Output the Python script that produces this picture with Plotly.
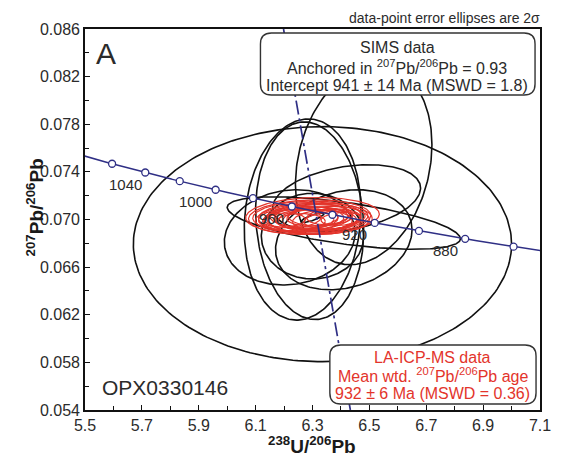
import numpy as np
import plotly.graph_objects as go

# Decay constants (Steiger & Jaeger 1977) and present-day 238U/235U
L238 = 1.55125e-10
L235 = 9.8485e-10
U_RATIO = 137.88

# Concordia age markers (Ma) and which of them carry a label
MARKER_AGES = [1060, 1040, 1020, 1000, 980, 960, 940, 920, 900, 880, 860]
LABEL_AGES = [1040, 1000, 960, 920, 880]
CURVE_AGE_RANGE = (840, 1090)

# Discordia anchored at common 207Pb/206Pb
DISCORDIA_ANCHOR = 0.93
DISCORDIA_SLOPE = -0.13617

# SIMS analyses: 238U/206Pb, 207Pb/206Pb, 2-sigma half widths, error correlation
SIMS_X = [6.335, 6.265, 6.290, 6.480, 6.420, 6.410, 6.220, 6.410, 6.300, 6.300]
SIMS_Y = [0.06793, 0.07000, 0.06990, 0.07460, 0.07180, 0.06970, 0.06850, 0.06830, 0.06860, 0.07015]
SIMS_SX = [0.665, 0.205, 0.190, 0.240, 0.260, 0.410, 0.230, 0.240, 0.180, 0.040]
SIMS_SY = [0.00987, 0.00845, 0.00830, 0.00840, 0.00280, 0.00220, 0.00400, 0.00420, 0.00360, 0.00040]
SIMS_RHO = [0.0, 0.1, -0.1, 0.2, 0.3, -0.6, 0.1, 0.2, 0.0, 0.8]

# LA-ICP-MS analyses
LA_X = [6.300, 6.290, 6.310, 6.280, 6.320, 6.270, 6.330, 6.300, 6.260, 6.340, 6.290, 6.310,
        6.250, 6.350, 6.280, 6.320, 6.230, 6.370, 6.300, 6.260, 6.360, 6.200, 6.400]
LA_Y = [0.07030, 0.07020, 0.07010, 0.07025, 0.07000, 0.07015, 0.07020, 0.06995, 0.07005, 0.07010,
        0.07035, 0.06990, 0.06995, 0.07000, 0.07005, 0.07025, 0.07010, 0.06995, 0.07015, 0.06985,
        0.07020, 0.06995, 0.07005]
LA_SX = [0.235, 0.215, 0.200, 0.190, 0.180, 0.170, 0.165, 0.155, 0.150, 0.145, 0.140, 0.130,
         0.125, 0.120, 0.110, 0.105, 0.100, 0.100, 0.090, 0.085, 0.080, 0.075, 0.070]
LA_SY = [0.00155, 0.00145, 0.00135, 0.00130, 0.00125, 0.00120, 0.00115, 0.00110, 0.00105, 0.00100,
         0.00100, 0.00095, 0.00090, 0.00090, 0.00085, 0.00080, 0.00080, 0.00075, 0.00070, 0.00065,
         0.00065, 0.00060, 0.00055]
LA_RHO = [0.1, 0.1, 0.0, 0.1, 0.0, 0.2, 0.1, 0.0, 0.1, 0.2, 0.1, 0.0,
          0.1, 0.2, 0.1, 0.0, 0.1, 0.2, 0.1, 0.0, 0.1, 0.1, 0.2]

X_RANGE = [5.5, 7.1]
Y_RANGE = [0.054, 0.086]

NAVY = "#2f2f85"
RED = "#e3342b"
TEXT = "#2b2b2b"
FONT = "Liberation Sans, Arial, sans-serif"

# Plot-area geometry in pixels (used to place layout decorations)
W, H = 563, 459
ML, MR, MT, MB = 85, 19, 29, 49
PW, PH = W - ML - MR, H - MT - MB


def tera_wasserburg(age_ma):
    t = np.asarray(age_ma, dtype=float) * 1e6
    e8 = np.exp(L238 * t) - 1.0
    e5 = np.exp(L235 * t) - 1.0
    return 1.0 / e8, e5 / e8 / U_RATIO


def ellipse_paths(xs, ys, sxs, sys_, rhos, n=241):
    t = np.linspace(0, 2 * np.pi, n)
    px, py = [], []
    for cx, cy, sx, sy, r in zip(xs, ys, sxs, sys_, rhos):
        px.extend(cx + sx * np.cos(t))
        py.extend(cy + sy * (r * np.cos(t) + np.sqrt(1 - r * r) * np.sin(t)))
        px.append(None)
        py.append(None)
    return px, py


def to_paper(px, py):
    return (px - ML) / PW, (H - MB - py) / PH


def rounded_box(x0, y0, x1, y1, r):
    # x0,y0 top-left and x1,y1 bottom-right in figure pixels
    def p(x, y):
        a, b = to_paper(x, y)
        return f"{a:.5f},{b:.5f}"
    return (f"M {p(x0 + r, y0)} L {p(x1 - r, y0)} Q {p(x1, y0)} {p(x1, y0 + r)} "
            f"L {p(x1, y1 - r)} Q {p(x1, y1)} {p(x1 - r, y1)} "
            f"L {p(x0 + r, y1)} Q {p(x0, y1)} {p(x0, y1 - r)} "
            f"L {p(x0, y0 + r)} Q {p(x0, y0)} {p(x0 + r, y0)} Z")


fig = go.Figure()

# SIMS ellipses
bx, by = ellipse_paths(SIMS_X, SIMS_Y, SIMS_SX, SIMS_SY, SIMS_RHO)
fig.add_trace(go.Scatter(x=bx, y=by, mode="lines", line=dict(color="#111111", width=1.6),
                         hoverinfo="skip", showlegend=False))

# LA-ICP-MS ellipses
rx, ry = ellipse_paths(LA_X, LA_Y, LA_SX, LA_SY, LA_RHO)
fig.add_trace(go.Scatter(x=rx, y=ry, mode="lines", line=dict(color=RED, width=1.2),
                         hoverinfo="skip", showlegend=False))

# Discordia
dy = np.array(Y_RANGE)
dx = (dy - DISCORDIA_ANCHOR) / DISCORDIA_SLOPE
fig.add_trace(go.Scatter(x=dx, y=dy, mode="lines",
                         line=dict(color=NAVY, width=1.7, dash="14px,4px,3px,4px"),
                         hoverinfo="skip", showlegend=False))

# Concordia curve and age markers
ages = np.linspace(*CURVE_AGE_RANGE, 400)
cx, cy = tera_wasserburg(ages)
fig.add_trace(go.Scatter(x=cx, y=cy, mode="lines", line=dict(color=NAVY, width=1.5),
                         hoverinfo="skip", showlegend=False))
mx, my = tera_wasserburg(MARKER_AGES)
fig.add_trace(go.Scatter(x=mx, y=my, mode="markers",
                         marker=dict(symbol="circle", size=7, color="white",
                                     line=dict(color=NAVY, width=1.3)),
                         hoverinfo="skip", showlegend=False))

annotations = []
lx, ly = tera_wasserburg(LABEL_AGES)
for age, x, y in zip(LABEL_AGES, lx, ly):
    annotations.append(dict(x=x, y=y, xref="x", yref="y", text=str(age), showarrow=False,
                            xshift=-20, yshift=-12, font=dict(size=15, color=TEXT, family=FONT)))


def paper_text(text, px, py, size, color=TEXT, xanchor="center", angle=0):
    a, b = to_paper(px, py)
    annotations.append(dict(x=a, y=b, xref="paper", yref="paper", text=text, showarrow=False,
                            xanchor=xanchor, yanchor="middle", textangle=angle,
                            font=dict(size=size, color=color, family=FONT)))


paper_text("data-point error ellipses are 2σ", 546, 18, 14, xanchor="right")
paper_text("A", 106, 54, 30)
paper_text("OPX0330146", 100, 387, 21, xanchor="left")

# SIMS summary
paper_text("SIMS data", 400, 48, 16)
paper_text("Anchored in <sup>207</sup>Pb/<sup>206</sup>Pb = 0.93", 400, 67, 16)
paper_text("Intercept 941 ± 14 Ma (MSWD = 1.8)", 400, 85, 16)

# LA-ICP-MS summary
paper_text("LA-ICP-MS data", 436, 357, 16, color=RED)
paper_text("Mean wtd. <sup>207</sup>Pb/<sup>206</sup>Pb age", 436, 375, 16, color=RED)
paper_text("932 ± 6 Ma (MSWD = 0.36)", 436, 393, 16, color=RED)

# Axis titles
paper_text("<b><sup>238</sup>U/<sup>206</sup>Pb</b>", 314, 445, 19, color="#1a1a1a")
paper_text("<b><sup>207</sup>Pb/<sup>206</sup>Pb</b>", 35, 207, 19, color="#1a1a1a", angle=-90)

shapes = [
    dict(type="path", xref="paper", yref="paper", path=rounded_box(262, 33, 539, 95, 11),
         fillcolor="white", line=dict(color="#333333", width=1.4), layer="above"),
    dict(type="path", xref="paper", yref="paper", path=rounded_box(332, 345, 540, 404, 11),
         fillcolor="white", line=dict(color="#333333", width=1.4), layer="above"),
]

axis_common = dict(showline=True, linecolor="#111111", linewidth=1.6, mirror=True,
                   showgrid=False, zeroline=False, ticks="inside", ticklen=5,
                   tickcolor="#111111", tickwidth=1.2,
                   tickfont=dict(size=16, color=TEXT, family=FONT))

fig.update_layout(
    width=W, height=H,
    margin=dict(l=ML, r=MR, t=MT, b=MB),
    paper_bgcolor="white", plot_bgcolor="white",
    xaxis=dict(range=X_RANGE, tick0=5.5, dtick=0.2, tickformat=".1f",
               minor=dict(dtick=0.1, ticks="inside", ticklen=4, tickcolor="#111111", showgrid=False),
               **axis_common),
    yaxis=dict(range=Y_RANGE, tick0=0.054, dtick=0.004, tickformat=".3f",
               minor=dict(dtick=0.002, ticks="inside", ticklen=4, tickcolor="#111111", showgrid=False),
               **axis_common),
    annotations=annotations,
    shapes=shapes,
    showlegend=False,
)

fig.write_html("out.html")
